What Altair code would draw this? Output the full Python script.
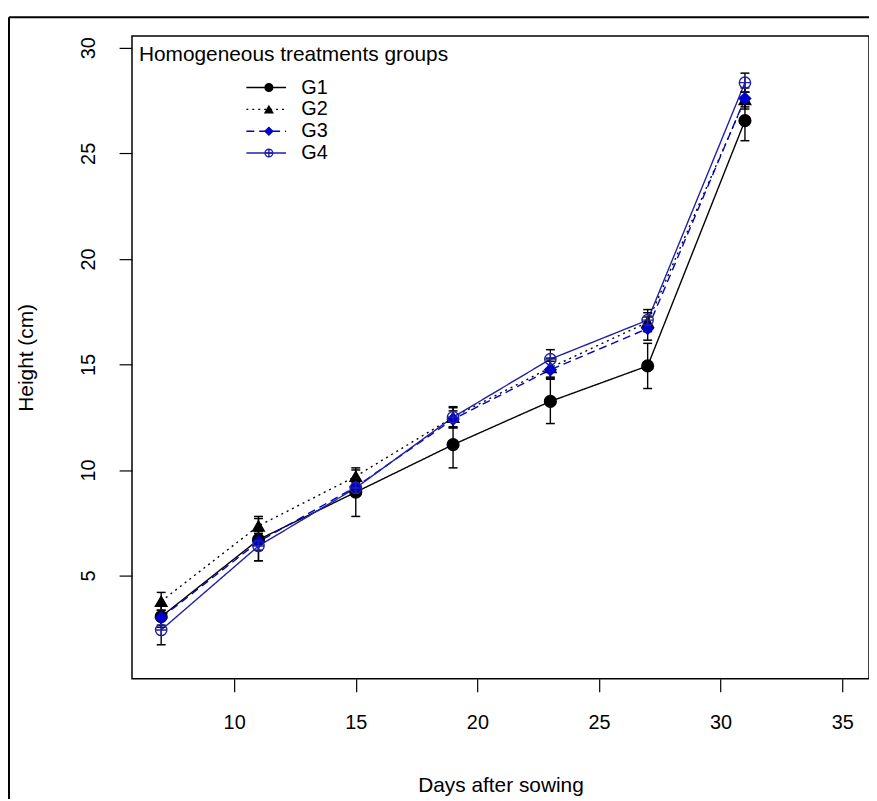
import altair as alt
import pandas as pd

# ---- data ----
days = [7, 11, 15, 19, 23, 27, 31]
groups = ["G1", "G2", "G3", "G4"]
g1_mean = [3.05, 6.70, 8.95, 11.20, 13.25, 14.93, 26.55]
g2_mean = [3.78, 7.35, 9.70, 12.50, 14.85, 17.00, 27.55]
g3_mean = [3.00, 6.60, 9.20, 12.40, 14.75, 16.70, 27.60]
g4_mean = [2.42, 6.40, 9.15, 12.50, 15.25, 17.10, 28.35]
g1_err = [0.50, 1.00, 1.15, 1.10, 1.05, 1.07, 0.95]
g2_err = [0.42, 0.45, 0.30, 0.50, 0.45, 0.45, 0.35]
g3_err = [0.35, 0.40, 0.35, 0.40, 0.40, 0.55, 0.50]
g4_err = [0.70, 0.70, 0.40, 0.45, 0.45, 0.50, 0.45]
x_ticks = [10, 15, 20, 25, 30, 35]
y_ticks = [5, 10, 15, 20, 25, 30]

means = [g1_mean, g2_mean, g3_mean, g4_mean]
errs = [g1_err, g2_err, g3_err, g4_err]
rows = []
for gi, g in enumerate(groups):
    for d, m, e in zip(days, means[gi], errs[gi]):
        rows.append({"day": d, "group": g, "height": m, "lo": m - e, "hi": m + e, "order": gi})
df = pd.DataFrame(rows)

# ---- styles ----
FONT = "Liberation Sans"
BLUE3 = "#0000CC"
BLUE4 = "#2020A8"
colors = ["#000000", "#000000", BLUE3, BLUE4]
fills = ["#000000", "#000000", BLUE3, "transparent"]
dashes = [[1, 0], [2, 4], [8, 5], [1, 0]]
circled_plus = "M-1,0A1,1,0,1,1,1,0A1,1,0,1,1,-1,0ZM-1,0L1,0M0,-1L0,1"
shapes = ["circle", "triangle-up", "diamond", circled_plus]
sizes = [140, 130, 55, 130]
long_stroke = "M-3,0L3,0"

xs = alt.Scale(domain=[5.8, 36.1], nice=False, zero=False)
ys = alt.Scale(domain=[0.11, 30.56], nice=False, zero=False)
X = alt.X("day:Q", scale=xs,
          axis=alt.Axis(values=x_ticks, title="Days after sowing", titleY=97,
                        titleBaseline="top", labelPadding=21))
Y = alt.Y("height:Q", scale=ys,
          axis=alt.Axis(values=y_ticks, title="Height (cm)", labelAngle=270,
                        labelAlign="center", labelBaseline="bottom", labelPadding=21,
                        titleX=-106, titleBaseline="middle"))

line_legend = alt.Legend(title=None, orient="none", legendX=125.3, legendY=42, padding=0,
                         symbolType=long_stroke, symbolSize=178, symbolStrokeWidth=1.4,
                         symbolFillColor="transparent",
                         labelFontSize=20, labelFont=FONT, labelColor="black",
                         labelOffset=25.3, rowPadding=2)
point_legend = alt.Legend(title=None, orient="none", legendX=128, legendY=42, padding=0,
                          symbolSize=60, symbolStrokeWidth=1.4,
                          labelFontSize=20, labelFont=FONT, labelOpacity=0,
                          labelExpr="''", labelOffset=17, rowPadding=2)

base = alt.Chart(df)

lines = base.mark_line(strokeWidth=1.4).encode(
    x=X, y=Y,
    color=alt.Color("group:N", scale=alt.Scale(domain=groups, range=colors), legend=line_legend),
    strokeDash=alt.StrokeDash("group:N", scale=alt.Scale(domain=groups, range=dashes), legend=line_legend),
    order=alt.Order("day:Q"),
)

bars = base.mark_rule(color="black", strokeWidth=1.4).encode(
    x="day:Q", y="lo:Q", y2="hi:Q")
caps_lo = base.mark_tick(orient="horizontal", color="black", size=9, thickness=1.5, opacity=1).encode(
    x="day:Q", y="lo:Q")
caps_hi = base.mark_tick(orient="horizontal", color="black", size=9, thickness=1.5, opacity=1).encode(
    x="day:Q", y="hi:Q")

points = base.mark_point(filled=False, opacity=1, strokeWidth=1.4).encode(
    x="day:Q", y="height:Q",
    color=alt.Color("group:N", scale=alt.Scale(domain=groups, range=colors), legend=point_legend),
    fill=alt.Fill("group:N", scale=alt.Scale(domain=groups, range=fills), legend=point_legend),
    shape=alt.Shape("group:N", scale=alt.Scale(domain=groups, range=shapes), legend=point_legend),
    size=alt.Size("group:N", scale=alt.Scale(domain=groups, range=sizes), legend=None),
)

dummy = alt.Chart(pd.DataFrame({"a": [0]}))
frame_h = dummy.mark_rule(color="black", strokeWidth=2).encode(
    x=alt.value(-124), x2=alt.value(760), y=alt.value(-19))
frame_v = dummy.mark_rule(color="black", strokeWidth=2).encode(
    x=alt.value(-124), y=alt.value(-19), y2=alt.value(800))

chart = alt.layer(lines, bars, caps_lo, caps_hi, points, frame_h, frame_v).resolve_scale(
    color="independent", fill="independent", shape="independent", strokeDash="independent"
).properties(
    width=743, height=648,
    autosize=alt.AutoSizeParams(type="none"),
    padding={"left": 125, "top": 25, "right": 0, "bottom": 118},
    title=alt.TitleParams("Homogeneous treatments groups", anchor="start", frame="group",
                          offset=0, dx=7, dy=66, baseline="alphabetic",
                          fontSize=21, font=FONT, fontWeight="normal", color="black"),
).configure(
    background="white"
).configure_view(
    stroke="black", strokeWidth=1.5
).configure_axis(
    domain=False, grid=False, tickSize=13, tickColor="black", tickWidth=1.2,
    labelFont=FONT, labelFontSize=20, labelColor="black",
    titleFont=FONT, titleFontSize=21, titleFontWeight="normal", titleColor="black",
)

chart.save("out.html", embed_options={"renderer": "svg", "actions": False})
